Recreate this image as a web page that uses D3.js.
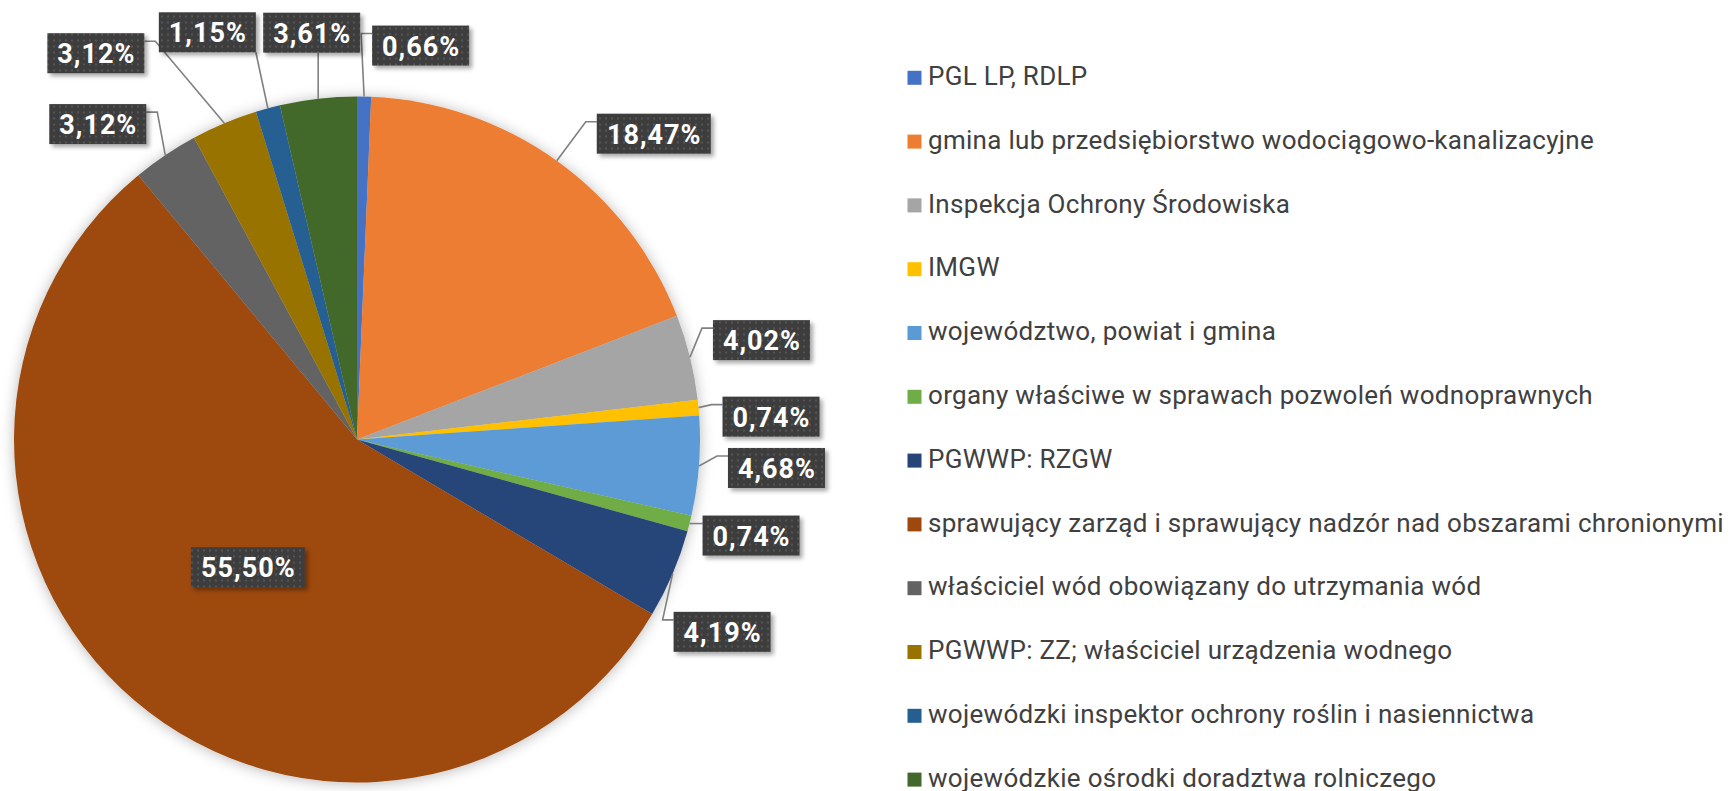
<!DOCTYPE html>
<html>
<head>
<meta charset="utf-8">
<script src="https://cdn.jsdelivr.net/npm/d3@7"></script>
<style>
  html, body { margin: 0; padding: 0; background: #fff; }
  svg { display: block; font-family: Roboto, "Noto Sans", sans-serif; }
</style>
</head>
<body>
<div id="chart"></div>
<script>
// categories and their shares (%)
const categories = [
  'PGL LP, RDLP',
  'gmina lub przedsiębiorstwo wodociągowo-kanalizacyjne',
  'Inspekcja Ochrony Środowiska',
  'IMGW',
  'województwo, powiat i gmina',
  'organy właściwe w sprawach pozwoleń wodnoprawnych',
  'PGWWP: RZGW',
  'sprawujący zarząd i sprawujący nadzór nad obszarami chronionymi',
  'właściciel wód obowiązany do utrzymania wód',
  'PGWWP: ZZ; właściciel urządzenia wodnego',
  'wojewódzki inspektor ochrony roślin i nasiennictwa',
  'wojewódzkie ośrodki doradztwa rolniczego'
];
const shares = [0.66, 18.47, 4.02, 0.74, 4.68, 0.74, 4.19, 55.50, 3.12, 3.12, 1.15, 3.61];
const sliceColors = ['#4472C4', '#ED7D31', '#A5A5A5', '#FFC000', '#5B9BD5', '#70AD47',
                     '#264478', '#9E480E', '#636363', '#997300', '#255E91', '#43682B'];

// label box placement relative to the slice's outer edge point (layout only)
const labelOffsets = [[8, -71], [40, -47], [23, -37], [24, -11], [29, -18], [13, -8],
                      [1, 38], null, [-116, -51], [-177, -90], [-109, -96], [-55, -86]];
const labelAttach = ['left', 'left', 'left', 'left', 'left', 'left',
                     'left', 'inside', 'right', 'right', 'bottom', 'bottom'];

let width = 1732;
let height = 791;
let cx = 357, cy = 439.5, radius = 343;

let svg = d3.select('#chart')
            .append('svg')
            .attr('width', width)
            .attr('height', height);

let defs = svg.append('defs');

// soft shadow round the pie
let pieShadow = defs.append('filter')
    .attr('id', 'pieShadow')
    .attr('x', '-10%').attr('y', '-10%')
    .attr('width', '120%').attr('height', '120%');
pieShadow.append('feDropShadow')
    .attr('dx', 0).attr('dy', 1)
    .attr('stdDeviation', 7)
    .attr('flood-color', '#000')
    .attr('flood-opacity', 0.28);

// shadow for label boxes
let boxShadow = defs.append('filter')
    .attr('id', 'boxShadow')
    .attr('x', '-20%').attr('y', '-30%')
    .attr('width', '150%').attr('height', '170%');
boxShadow.append('feDropShadow')
    .attr('dx', 3).attr('dy', 3)
    .attr('stdDeviation', 2)
    .attr('flood-color', '#000')
    .attr('flood-opacity', 0.35);

// dotted texture of the label boxes
let dots = defs.append('pattern')
    .attr('id', 'dots')
    .attr('patternUnits', 'userSpaceOnUse')
    .attr('width', 6).attr('height', 6);
dots.append('rect').attr('width', 6).attr('height', 6).attr('fill', '#3d3d3d');
dots.append('rect').attr('x', 2).attr('y', 2).attr('width', 2).attr('height', 2).attr('fill', '#555');

let pie = d3.pie().sort(null).value(d => d)(shares);
let arc = d3.arc().innerRadius(0).outerRadius(radius);
let innerLabelArc = d3.arc().innerRadius(radius * 0.98).outerRadius(0);

let g = svg.append('g').attr('transform', 'translate(' + cx + ',' + cy + ')');

g.append('g')
  .attr('filter', 'url(#pieShadow)')
  .selectAll('path')
  .data(pie)
  .join('path')
  .attr('d', arc)
  .attr('fill', (d, i) => sliceColors[i]);

let leaderLayer = g.append('g');
let labelLayer = g.append('g');

// data labels
let fmt = v => v.toFixed(2).replace('.', ',') + '%';

pie.forEach((d, i) => {
  let mid = (d.startAngle + d.endAngle) / 2;
  let label = labelLayer.append('g');
  let box = label.append('rect');
  let text = label.append('text')
      .attr('fill', '#fff')
      .attr('font-weight', 'bold')
      .attr('font-size', 27)
      .attr('letter-spacing', 1)
      .attr('text-anchor', 'middle')
      .text(fmt(shares[i]));
  let tw = text.node().getComputedTextLength();
  let bw = Math.round(tw + 19), bh = 40;
  let bx, by;

  if (labelAttach[i] === 'inside') {
    let c = innerLabelArc.centroid(d);
    bx = c[0] - bw / 2;
    by = c[1] - bh / 2;
  } else {
    let ax = radius * Math.sin(mid);
    let ay = -radius * Math.cos(mid);
    bx = ax + labelOffsets[i][0];
    by = ay + labelOffsets[i][1];

    let pts;
    if (labelAttach[i] === 'left') {
      pts = [[ax, ay], [bx - 11, by + 8], [bx, by + 8]];
    } else if (labelAttach[i] === 'right') {
      pts = [[ax, ay], [bx + bw + 11, by + 8], [bx + bw, by + 8]];
    } else {
      let px = Math.max(bx, Math.min(bx + bw, ax));
      pts = [[ax, ay], [px, by + bh]];
    }
    leaderLayer.append('path')
      .attr('d', d3.line()(pts))
      .attr('fill', 'none')
      .attr('stroke', '#808080')
      .attr('stroke-width', 1.6);
  }

  box.attr('x', bx).attr('y', by)
      .attr('width', bw).attr('height', bh)
      .attr('fill', 'url(#dots)')
      .attr('filter', 'url(#boxShadow)');
  // letter-spacing adds trailing space, nudge to keep it centred
  text.attr('x', bx + bw / 2 + 0.5).attr('y', by + 30);
});

// legend
let legend = svg.append('g').attr('transform', 'translate(907.5,77.8)');
let item = legend.selectAll('g')
    .data(categories)
    .join('g')
    .attr('transform', (d, i) => 'translate(0,' + (i * 63.8) + ')');
item.append('rect')
    .attr('x', 0).attr('y', -7)
    .attr('width', 14).attr('height', 14)
    .attr('fill', (d, i) => sliceColors[i]);
item.append('text')
    .attr('x', 20.5)
    .attr('y', 7.2)
    .attr('font-size', 26)
    .attr('letter-spacing', 0.3)
    .attr('fill', '#404040')
    .text(d => d);
</script>
</body>
</html>
